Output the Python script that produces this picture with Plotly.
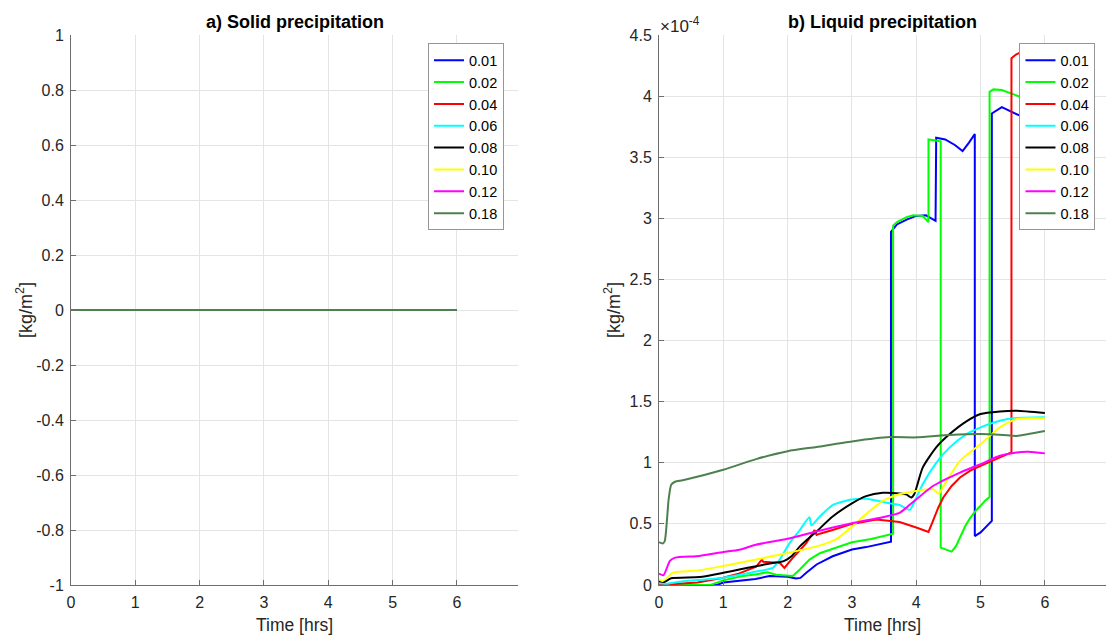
import plotly.graph_objects as go

# Series labels and colours
labels = ["0.01", "0.02", "0.04", "0.06", "0.08", "0.10", "0.12", "0.18"]
colors = ["rgb(0,0,255)", "rgb(0,255,0)", "rgb(255,0,0)", "rgb(0,255,255)",
          "rgb(0,0,0)", "rgb(255,255,0)", "rgb(255,0,255)", "rgb(78,128,78)"]

# a) Solid precipitation [kg/m2] – identical for every series
solid_t = [0, 6]
solid_v = [0, 0]

# b) Liquid precipitation [x1e-4 kg/m2]
t_001 = [0, 0.9, 1.0, 1.25, 1.5, 1.72, 1.88, 2.0, 2.13, 2.2, 2.29, 2.45, 2.7, 3.0, 3.22,
         3.607, 3.607, 3.7, 3.85, 4.0, 4.15, 4.30, 4.31, 4.45, 4.6, 4.72, 4.82, 4.91, 4.91,
         5.0, 5.175, 5.175, 5.33, 5.61, 6.0]
v_001 = [0, 0, 0.02, 0.035, 0.05, 0.073, 0.068, 0.068, 0.054, 0.058, 0.1, 0.168, 0.235, 0.29, 0.31,
         0.355, 2.89, 2.95, 2.99, 3.02, 3.025, 2.98, 3.66, 3.645, 3.60, 3.55, 3.62, 3.69, 0.40,
         0.43, 0.525, 3.858, 3.91, 3.84, 3.75]

t_002 = [0, 0.8, 1.0, 1.3, 1.5, 1.69, 1.82, 2.0, 2.08, 2.19, 2.34, 2.5, 2.7, 3.0, 3.3, 3.64,
         3.64, 3.7, 3.85, 3.95, 4.1, 4.19, 4.19, 4.38, 4.38, 4.55, 4.62, 4.68, 4.76, 4.84, 4.92,
         5.0, 5.07, 5.14, 5.14, 5.2, 5.33, 5.61, 6.0]
v_002 = [0, 0, 0.038, 0.073, 0.086, 0.105, 0.084, 0.073, 0.073, 0.127, 0.208, 0.26, 0.297, 0.35, 0.376, 0.42,
         2.94, 2.97, 3.01, 3.025, 3.02, 2.97, 3.645, 3.63, 0.306, 0.273, 0.32, 0.388, 0.48, 0.55, 0.605,
         0.648, 0.69, 0.72, 4.035, 4.055, 4.05, 3.995, 3.9]

t_004 = [0, 0.6, 1.0, 1.25, 1.51, 1.6, 1.62, 1.88, 1.95, 2.06, 2.29, 2.42, 2.45, 2.5, 2.7, 3.0,
         3.38, 3.74, 4.0, 4.19, 4.26, 4.34, 4.42, 4.55, 4.68, 4.84, 5.0, 5.25, 5.48, 5.48, 5.55,
         5.61, 6.0]
v_004 = [0, 0.02, 0.06, 0.095, 0.149, 0.208, 0.19, 0.18, 0.14, 0.21, 0.343, 0.45, 0.41, 0.42, 0.45, 0.5,
         0.535, 0.515, 0.47, 0.434, 0.525, 0.63, 0.716, 0.81, 0.88, 0.935, 0.975, 1.03, 1.085, 4.31, 4.34,
         4.355, 4.36]

t_006 = [0, 0.1, 0.37, 1.0, 1.51, 1.77, 1.88, 2.03, 2.19, 2.34, 2.37, 2.5, 2.7, 3.0, 3.22, 3.59,
         3.74, 3.9, 3.95, 4.1, 4.31, 4.52, 4.78, 5.0, 5.3, 5.56, 6.0]
v_006 = [0.014, 0.01, 0.03, 0.06, 0.11, 0.14, 0.21, 0.343, 0.45, 0.554, 0.487, 0.56, 0.654, 0.70, 0.705, 0.668,
         0.654, 0.615, 0.656, 0.825, 1.0, 1.126, 1.235, 1.29, 1.344, 1.366, 1.372]

t_008 = [0, 0.08, 0.19, 0.63, 1.0, 1.25, 1.51, 1.77, 1.94, 2.06, 2.19, 2.45, 2.7, 3.0, 3.22, 3.48,
         3.74, 3.85, 3.92, 3.97, 4.1, 4.31, 4.52, 4.78, 5.0, 5.3, 5.56, 6.0]
v_008 = [0.03, 0.024, 0.055, 0.065, 0.1, 0.127, 0.154, 0.18, 0.195, 0.235, 0.316, 0.438, 0.56, 0.668, 0.727, 0.754,
         0.749, 0.74, 0.716, 0.745, 0.96, 1.126, 1.235, 1.339, 1.399, 1.42, 1.426, 1.407]

t_010 = [0, 0.06, 0.22, 0.63, 1.0, 1.51, 2.0, 2.45, 2.76, 3.0, 3.22, 3.48, 3.74, 4.0, 4.26, 4.35,
         4.47, 4.68, 5.0, 5.3, 5.56, 6.0]
v_010 = [0.047, 0.033, 0.1, 0.12, 0.156, 0.208, 0.262, 0.316, 0.376, 0.478, 0.58, 0.689, 0.743, 0.77, 0.784, 0.749,
         0.852, 1.016, 1.153, 1.29, 1.358, 1.363]

t_012 = [0, 0.07, 0.17, 0.25, 0.63, 1.0, 1.25, 1.51, 2.0, 2.45, 3.0, 3.48, 3.74, 3.85, 4.26, 4.68,
         5.0, 5.3, 5.56, 5.75, 6.0]
v_012 = [0.093, 0.08, 0.197, 0.224, 0.238, 0.27, 0.289, 0.33, 0.378, 0.438, 0.505, 0.555, 0.59, 0.634, 0.81, 0.92,
         0.989, 1.057, 1.085, 1.09, 1.077]

t_018 = [0, 0.06, 0.09, 0.15, 0.19, 0.25, 0.37, 1.0, 1.51, 2.0, 2.45, 3.0, 3.59, 4.0, 4.52, 5.0,
         5.35, 5.56, 6.0]
v_018 = [0.35, 0.34, 0.36, 0.7, 0.82, 0.845, 0.857, 0.943, 1.03, 1.095, 1.13, 1.175, 1.21, 1.208, 1.227, 1.235,
         1.227, 1.22, 1.26]

liquid_t = [t_001, t_002, t_004, t_006, t_008, t_010, t_012, t_018]
liquid_v = [v_001, v_002, v_004, v_006, v_008, v_010, v_012, v_018]
# series with vertical jumps stay piecewise linear, the others are smoothed
liquid_shape = ["linear", "linear", "linear", "spline", "spline", "spline", "spline", "spline"]

x_ticks = [0, 1, 2, 3, 4, 5, 6]
solid_ticks = [-1, -0.8, -0.6, -0.4, -0.2, 0, 0.2, 0.4, 0.6, 0.8, 1]
solid_ticktext = ["-1", "-0.8", "-0.6", "-0.4", "-0.2", "0", "0.2", "0.4", "0.6", "0.8", "1"]
liquid_ticks = [0, 0.5, 1, 1.5, 2, 2.5, 3, 3.5, 4, 4.5]
liquid_ticktext = ["0", "0.5", "1", "1.5", "2", "2.5", "3", "3.5", "4", "4.5"]

FONT = "Liberation Sans, Arial, Helvetica, sans-serif"
TXT = "#262626"
AX = "rgb(110,110,110)"
GRID = "rgb(228,228,228)"

fig = go.Figure()

for lab, col in zip(labels, colors):
    fig.add_trace(go.Scatter(x=solid_t, y=solid_v, mode="lines", name=lab,
                             line=dict(color=col, width=2),
                             xaxis="x", yaxis="y", legend="legend"))

for lab, col, tt, vv, shp in zip(labels, colors, liquid_t, liquid_v, liquid_shape):
    fig.add_trace(go.Scatter(x=tt, y=vv, mode="lines", name=lab,
                             line=dict(color=col, width=2, shape=shp, smoothing=0.6),
                             xaxis="x2", yaxis="y2", legend="legend2"))

axis_common = dict(showgrid=True, gridcolor=GRID, gridwidth=1, zeroline=False,
                   showline=True, linecolor=AX, linewidth=1, mirror=False,
                   ticks="inside", ticklen=5, tickcolor=AX, tickwidth=1,
                   tickfont=dict(family=FONT, size=16, color=TXT))

x_common = dict(axis_common, range=[0, 6.95], tickvals=x_ticks, ticklabelstandoff=3)
y_common = dict(axis_common, ticklabelstandoff=3)

legend_common = dict(bgcolor="white", bordercolor="rgb(150,150,150)", borderwidth=1,
                     font=dict(family=FONT, size=14.5, color="black"),
                     xanchor="left", yanchor="top", tracegroupgap=0)

fig.update_layout(
    width=1110, height=637, autosize=False,
    paper_bgcolor="white", plot_bgcolor="white",
    margin=dict(l=71, r=4, t=34.5, b=52),
    xaxis=dict(x_common, domain=[0, 0.4319], anchor="y"),
    yaxis=dict(y_common, range=[-1, 1], tickvals=solid_ticks, ticktext=solid_ticktext,
               anchor="x"),
    xaxis2=dict(x_common, domain=[0.5681, 1.0], anchor="y2"),
    yaxis2=dict(y_common, range=[0, 4.5], tickvals=liquid_ticks, ticktext=liquid_ticktext,
                anchor="x2"),
    legend=dict(legend_common, x=0.3449, y=0.985),
    legend2=dict(legend_common, x=0.9164, y=0.985),
    showlegend=True,
)

annotations = []
for xa, ya, title in [("x", "y", "a) Solid precipitation"), ("x2", "y2", "b) Liquid precipitation")]:
    annotations.append(dict(text="<b>%s</b>" % title, xref=xa + " domain", yref=ya + " domain",
                            x=0.5, y=1, xanchor="center", yanchor="bottom", yshift=1,
                            showarrow=False, font=dict(family=FONT, size=18, color="black")))
    annotations.append(dict(text="Time [hrs]", xref=xa + " domain", yref=ya + " domain",
                            x=0.5, y=0, xanchor="center", yanchor="middle", yshift=-40,
                            showarrow=False, font=dict(family=FONT, size=17.5, color=TXT)))
    annotations.append(dict(text="[kg/m<sup>2</sup>]", xref=xa + " domain", yref=ya + " domain",
                            x=0, y=0.5, xanchor="center", yanchor="middle", xshift=-47,
                            textangle=-90, showarrow=False,
                            font=dict(family=FONT, size=18, color=TXT)))
annotations.append(dict(text="×10<sup>-4</sup>", xref="x2 domain", yref="y2 domain",
                        x=0, y=1, xanchor="left", yanchor="bottom", xshift=-1, yshift=-3,
                        showarrow=False, font=dict(family=FONT, size=17, color=TXT)))
fig.update_layout(annotations=annotations)

fig.write_html("out.html")
